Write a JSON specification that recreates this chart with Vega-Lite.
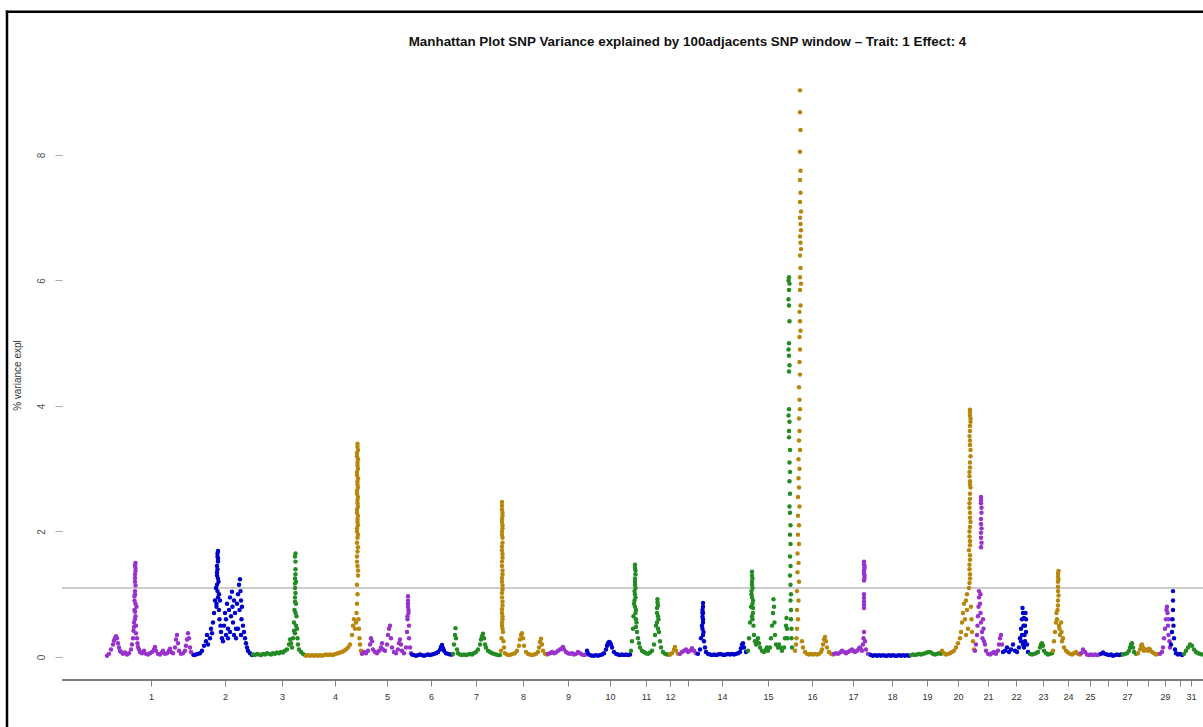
{
"$schema": "https://vega.github.io/schema/vega-lite/v6.json",
"width": 1203,
"height": 727,
"autosize": {"type": "none"},
"padding": 0,
"background": "white",
"config": {"view": {"stroke": null}, "font": "Liberation Sans"},
"title": {"text": "Manhattan Plot SNP Variance explained by 100adjacents SNP window \u2013 Trait: 1 Effect: 4", "fontSize": 13.4, "fontWeight": "bold", "font": "Liberation Sans", "color": "#111", "anchor": "middle", "frame": "group", "offset": -59, "baseline": "alphabetic", "dx": 86},
"datasets": {
"snp": [
{"c":1,"x":107,"y":0.02},{"c":1,"x":109,"y":0.05},{"c":1,"x":111,"y":0.12},{"c":1,"x":113,"y":0.2},{"c":1,"x":114,"y":0.26},{"c":1,"x":115,"y":0.3},{"c":1,"x":116,"y":0.33},{"c":1,"x":117,"y":0.3},{"c":1,"x":118,"y":0.22},{"c":1,"x":119,"y":0.15},{"c":1,"x":120,"y":0.1},{"c":1,"x":121,"y":0.08},{"c":1,"x":123,"y":0.05},{"c":1,"x":125,"y":0.07},{"c":1,"x":127,"y":0.04},{"c":1,"x":129,"y":0.06},{"c":1,"x":131,"y":0.12},{"c":1,"x":132,"y":0.2},{"c":1,"x":133,"y":0.3},{"c":1,"x":133.5,"y":0.42},{"c":1,"x":134,"y":0.55},{"c":1,"x":134.5,"y":0.75},{"c":1,"x":134.5,"y":0.9},{"c":1,"x":135,"y":1.05},{"c":1,"x":135,"y":1.2},{"c":1,"x":135,"y":1.32},{"c":1,"x":135.5,"y":1.42},{"c":1,"x":135.5,"y":1.5},{"c":1,"x":135.5,"y":0.65},{"c":1,"x":136,"y":0.5},{"c":1,"x":136,"y":0.38},{"c":1,"x":136.5,"y":0.8},{"c":1,"x":135,"y":1.46},{"c":1,"x":135.5,"y":1.37},{"c":1,"x":135,"y":1.26},{"c":1,"x":135.5,"y":1.14},{"c":1,"x":135,"y":1.0},{"c":1,"x":134.5,"y":0.97},{"c":1,"x":135.5,"y":0.85},{"c":1,"x":135,"y":0.72},{"c":1,"x":135,"y":0.6},{"c":1,"x":134,"y":0.48},{"c":1,"x":137,"y":0.3},{"c":1,"x":137.5,"y":0.22},{"c":1,"x":138,"y":0.16},{"c":1,"x":139,"y":0.12},{"c":1,"x":140,"y":0.08},{"c":1,"x":142,"y":0.06},{"c":1,"x":144,"y":0.1},{"c":1,"x":146,"y":0.05},{"c":1,"x":148,"y":0.04},{"c":1,"x":150,"y":0.06},{"c":1,"x":152,"y":0.08},{"c":1,"x":154,"y":0.12},{"c":1,"x":155,"y":0.16},{"c":1,"x":156,"y":0.1},{"c":1,"x":158,"y":0.05},{"c":1,"x":160,"y":0.04},{"c":1,"x":162,"y":0.07},{"c":1,"x":163,"y":0.1},{"c":1,"x":165,"y":0.05},{"c":1,"x":167,"y":0.06},{"c":1,"x":169,"y":0.1},{"c":1,"x":170,"y":0.13},{"c":1,"x":171,"y":0.08},{"c":1,"x":173,"y":0.06},{"c":1,"x":175,"y":0.15},{"c":1,"x":176,"y":0.28},{"c":1,"x":177,"y":0.35},{"c":1,"x":178,"y":0.22},{"c":1,"x":179,"y":0.1},{"c":1,"x":181,"y":0.05},{"c":1,"x":183,"y":0.06},{"c":1,"x":185,"y":0.1},{"c":1,"x":186,"y":0.18},{"c":1,"x":187,"y":0.28},{"c":1,"x":188,"y":0.38},{"c":1,"x":189,"y":0.3},{"c":1,"x":190,"y":0.15},{"c":1,"x":191,"y":0.08},{"c":1,"x":193,"y":0.04},
{"c":2,"x":194,"y":0.03},{"c":2,"x":196,"y":0.04},{"c":2,"x":198,"y":0.05},{"c":2,"x":200,"y":0.06},{"c":2,"x":202,"y":0.1},{"c":2,"x":204,"y":0.18},{"c":2,"x":206,"y":0.25},{"c":2,"x":207,"y":0.35},{"c":2,"x":208,"y":0.2},{"c":2,"x":210,"y":0.3},{"c":2,"x":211,"y":0.45},{"c":2,"x":212,"y":0.38},{"c":2,"x":213,"y":0.55},{"c":2,"x":214,"y":0.7},{"c":2,"x":215,"y":0.9},{"c":2,"x":216,"y":1.1},{"c":2,"x":216.5,"y":0.8},{"c":2,"x":217,"y":1.3},{"c":2,"x":217,"y":1.45},{"c":2,"x":217.5,"y":1.6},{"c":2,"x":218,"y":1.69},{"c":2,"x":218,"y":1.52},{"c":2,"x":218.5,"y":1.2},{"c":2,"x":219,"y":1.0},{"c":2,"x":219,"y":0.75},{"c":2,"x":219.5,"y":0.6},{"c":2,"x":217.5,"y":1.65},{"c":2,"x":218,"y":1.57},{"c":2,"x":217.5,"y":1.4},{"c":2,"x":217,"y":1.35},{"c":2,"x":218,"y":1.25},{"c":2,"x":217,"y":1.15},{"c":2,"x":217.5,"y":1.05},{"c":2,"x":218,"y":0.95},{"c":2,"x":216.5,"y":0.85},{"c":2,"x":220,"y":0.9},{"c":2,"x":220.5,"y":0.5},{"c":2,"x":221,"y":0.4},{"c":2,"x":222,"y":0.3},{"c":2,"x":223,"y":0.25},{"c":2,"x":224,"y":0.5},{"c":2,"x":225,"y":0.7},{"c":2,"x":226,"y":0.6},{"c":2,"x":226,"y":0.35},{"c":2,"x":227,"y":0.85},{"c":2,"x":228,"y":0.45},{"c":2,"x":228,"y":0.3},{"c":2,"x":229,"y":0.75},{"c":2,"x":230,"y":0.95},{"c":2,"x":230,"y":0.4},{"c":2,"x":231,"y":0.65},{"c":2,"x":232,"y":1.04},{"c":2,"x":232.5,"y":0.8},{"c":2,"x":233,"y":0.55},{"c":2,"x":234,"y":0.9},{"c":2,"x":234,"y":0.35},{"c":2,"x":235,"y":0.7},{"c":2,"x":236,"y":0.45},{"c":2,"x":236,"y":0.3},{"c":2,"x":237,"y":0.85},{"c":2,"x":238,"y":1.0},{"c":2,"x":238,"y":0.45},{"c":2,"x":239,"y":1.15},{"c":2,"x":239.5,"y":0.75},{"c":2,"x":240,"y":1.24},{"c":2,"x":240.5,"y":1.05},{"c":2,"x":241,"y":0.9},{"c":2,"x":241,"y":0.35},{"c":2,"x":241.5,"y":0.6},{"c":2,"x":242,"y":0.8},{"c":2,"x":243,"y":0.5},{"c":2,"x":244,"y":0.4},{"c":2,"x":245,"y":0.3},{"c":2,"x":246,"y":0.22},{"c":2,"x":247,"y":0.15},{"c":2,"x":248,"y":0.1},{"c":2,"x":250,"y":0.06},{"c":2,"x":252,"y":0.03},
{"c":3,"x":253,"y":0.04},{"c":3,"x":255,"y":0.03},{"c":3,"x":257,"y":0.05},{"c":3,"x":259,"y":0.04},{"c":3,"x":261,"y":0.03},{"c":3,"x":263,"y":0.05},{"c":3,"x":265,"y":0.04},{"c":3,"x":267,"y":0.06},{"c":3,"x":269,"y":0.05},{"c":3,"x":271,"y":0.04},{"c":3,"x":273,"y":0.06},{"c":3,"x":275,"y":0.05},{"c":3,"x":277,"y":0.07},{"c":3,"x":279,"y":0.06},{"c":3,"x":281,"y":0.08},{"c":3,"x":283,"y":0.07},{"c":3,"x":285,"y":0.1},{"c":3,"x":287,"y":0.12},{"c":3,"x":289,"y":0.2},{"c":3,"x":290,"y":0.28},{"c":3,"x":291,"y":0.22},{"c":3,"x":292,"y":0.15},{"c":3,"x":293,"y":0.3},{"c":3,"x":294,"y":0.42},{"c":3,"x":294,"y":0.55},{"c":3,"x":294.5,"y":0.75},{"c":3,"x":295,"y":0.95},{"c":3,"x":295,"y":1.1},{"c":3,"x":295,"y":1.25},{"c":3,"x":295.5,"y":1.4},{"c":3,"x":295.5,"y":1.52},{"c":3,"x":295.5,"y":1.65},{"c":3,"x":296,"y":1.2},{"c":3,"x":296,"y":0.85},{"c":3,"x":295,"y":1.6},{"c":3,"x":295.5,"y":1.32},{"c":3,"x":295,"y":1.17},{"c":3,"x":295.5,"y":1.02},{"c":3,"x":295,"y":0.88},{"c":3,"x":295.5,"y":0.7},{"c":3,"x":296,"y":0.5},{"c":3,"x":295,"y":0.38},{"c":3,"x":296.5,"y":0.65},{"c":3,"x":297,"y":0.45},{"c":3,"x":297.5,"y":0.3},{"c":3,"x":298,"y":0.2},{"c":3,"x":299,"y":0.12},{"c":3,"x":301,"y":0.08},{"c":3,"x":303,"y":0.05},{"c":3,"x":305,"y":0.03},
{"c":4,"x":306,"y":0.02},{"c":4,"x":308,"y":0.03},{"c":4,"x":310,"y":0.02},{"c":4,"x":312,"y":0.03},{"c":4,"x":314,"y":0.02},{"c":4,"x":316,"y":0.03},{"c":4,"x":318,"y":0.02},{"c":4,"x":320,"y":0.03},{"c":4,"x":322,"y":0.02},{"c":4,"x":324,"y":0.03},{"c":4,"x":326,"y":0.04},{"c":4,"x":328,"y":0.03},{"c":4,"x":330,"y":0.04},{"c":4,"x":332,"y":0.03},{"c":4,"x":334,"y":0.04},{"c":4,"x":336,"y":0.05},{"c":4,"x":338,"y":0.06},{"c":4,"x":340,"y":0.07},{"c":4,"x":342,"y":0.08},{"c":4,"x":344,"y":0.1},{"c":4,"x":346,"y":0.12},{"c":4,"x":348,"y":0.15},{"c":4,"x":350,"y":0.2},{"c":4,"x":352,"y":0.35},{"c":4,"x":353,"y":0.5},{"c":4,"x":354,"y":0.6},{"c":4,"x":355,"y":0.45},{"c":4,"x":356,"y":0.55},{"c":4,"x":356.5,"y":0.7},{"c":4,"x":357,"y":0.85},{"c":4,"x":357.5,"y":1.0},{"c":4,"x":357,"y":1.15},{"c":4,"x":358,"y":1.3},{"c":4,"x":357.5,"y":1.45},{"c":4,"x":357,"y":1.6},{"c":4,"x":358,"y":1.75},{"c":4,"x":357.5,"y":1.9},{"c":4,"x":357,"y":2.0},{"c":4,"x":358,"y":2.1},{"c":4,"x":357.5,"y":2.2},{"c":4,"x":357,"y":2.3},{"c":4,"x":358,"y":2.4},{"c":4,"x":357.5,"y":2.5},{"c":4,"x":357,"y":2.6},{"c":4,"x":358,"y":2.7},{"c":4,"x":357.5,"y":2.8},{"c":4,"x":357,"y":2.9},{"c":4,"x":358,"y":3.0},{"c":4,"x":357.5,"y":3.1},{"c":4,"x":357,"y":3.2},{"c":4,"x":358,"y":3.3},{"c":4,"x":357.5,"y":3.4},{"c":4,"x":357.5,"y":3.35},{"c":4,"x":357,"y":3.25},{"c":4,"x":358,"y":3.15},{"c":4,"x":357.5,"y":3.05},{"c":4,"x":357,"y":2.95},{"c":4,"x":358,"y":2.85},{"c":4,"x":357.5,"y":2.75},{"c":4,"x":357,"y":2.65},{"c":4,"x":358,"y":2.55},{"c":4,"x":357.5,"y":2.45},{"c":4,"x":357,"y":2.35},{"c":4,"x":358,"y":2.25},{"c":4,"x":357.5,"y":2.15},{"c":4,"x":357,"y":2.05},{"c":4,"x":358,"y":1.95},{"c":4,"x":357,"y":1.82},{"c":4,"x":357.5,"y":1.68},{"c":4,"x":357,"y":1.52},{"c":4,"x":358,"y":1.38},{"c":4,"x":358.5,"y":0.6},{"c":4,"x":359,"y":0.45},{"c":4,"x":359.5,"y":0.3},{"c":4,"x":360,"y":0.2},{"c":4,"x":361,"y":0.1},
{"c":5,"x":362,"y":0.05},{"c":5,"x":364,"y":0.08},{"c":5,"x":366,"y":0.06},{"c":5,"x":368,"y":0.1},{"c":5,"x":370,"y":0.2},{"c":5,"x":371,"y":0.3},{"c":5,"x":372,"y":0.25},{"c":5,"x":373,"y":0.12},{"c":5,"x":375,"y":0.08},{"c":5,"x":377,"y":0.06},{"c":5,"x":379,"y":0.1},{"c":5,"x":381,"y":0.15},{"c":5,"x":382,"y":0.22},{"c":5,"x":383,"y":0.12},{"c":5,"x":385,"y":0.1},{"c":5,"x":387,"y":0.2},{"c":5,"x":388,"y":0.35},{"c":5,"x":389,"y":0.45},{"c":5,"x":390,"y":0.5},{"c":5,"x":391,"y":0.3},{"c":5,"x":392,"y":0.15},{"c":5,"x":394,"y":0.08},{"c":5,"x":396,"y":0.06},{"c":5,"x":398,"y":0.12},{"c":5,"x":399,"y":0.22},{"c":5,"x":400,"y":0.28},{"c":5,"x":401,"y":0.2},{"c":5,"x":402,"y":0.1},{"c":5,"x":404,"y":0.06},{"c":5,"x":406,"y":0.15},{"c":5,"x":407,"y":0.4},{"c":5,"x":407.5,"y":0.6},{"c":5,"x":408,"y":0.8},{"c":5,"x":408,"y":0.97},{"c":5,"x":408,"y":0.9},{"c":5,"x":408,"y":0.85},{"c":5,"x":408.5,"y":0.75},{"c":5,"x":407.5,"y":0.65},{"c":5,"x":408.5,"y":0.7},{"c":5,"x":409,"y":0.5},{"c":5,"x":409,"y":0.3},{"c":5,"x":410,"y":0.15},{"c":5,"x":411,"y":0.06},
{"c":6,"x":412,"y":0.04},{"c":6,"x":414,"y":0.03},{"c":6,"x":416,"y":0.02},{"c":6,"x":418,"y":0.03},{"c":6,"x":420,"y":0.04},{"c":6,"x":422,"y":0.03},{"c":6,"x":424,"y":0.02},{"c":6,"x":426,"y":0.03},{"c":6,"x":428,"y":0.04},{"c":6,"x":430,"y":0.03},{"c":6,"x":432,"y":0.04},{"c":6,"x":434,"y":0.05},{"c":6,"x":436,"y":0.06},{"c":6,"x":438,"y":0.08},{"c":6,"x":440,"y":0.12},{"c":6,"x":441,"y":0.16},{"c":6,"x":442,"y":0.19},{"c":6,"x":443,"y":0.14},{"c":6,"x":444,"y":0.1},{"c":6,"x":446,"y":0.06},{"c":6,"x":448,"y":0.05},{"c":6,"x":450,"y":0.04},{"c":6,"x":452,"y":0.04},
{"c":7,"x":453,"y":0.05},{"c":7,"x":454,"y":0.2},{"c":7,"x":455,"y":0.35},{"c":7,"x":455.5,"y":0.46},{"c":7,"x":456,"y":0.3},{"c":7,"x":457,"y":0.12},{"c":7,"x":458,"y":0.06},{"c":7,"x":460,"y":0.04},{"c":7,"x":462,"y":0.03},{"c":7,"x":464,"y":0.04},{"c":7,"x":466,"y":0.03},{"c":7,"x":468,"y":0.04},{"c":7,"x":470,"y":0.05},{"c":7,"x":472,"y":0.04},{"c":7,"x":474,"y":0.06},{"c":7,"x":476,"y":0.08},{"c":7,"x":478,"y":0.12},{"c":7,"x":480,"y":0.2},{"c":7,"x":481,"y":0.28},{"c":7,"x":482,"y":0.33},{"c":7,"x":483,"y":0.37},{"c":7,"x":484,"y":0.3},{"c":7,"x":485,"y":0.2},{"c":7,"x":486,"y":0.15},{"c":7,"x":488,"y":0.1},{"c":7,"x":490,"y":0.08},{"c":7,"x":492,"y":0.06},{"c":7,"x":494,"y":0.05},{"c":7,"x":496,"y":0.04},{"c":7,"x":498,"y":0.03},{"c":7,"x":500,"y":0.03},
{"c":8,"x":501,"y":0.1},{"c":8,"x":501.5,"y":0.3},{"c":8,"x":502,"y":0.5},{"c":8,"x":502.5,"y":0.6},{"c":8,"x":502,"y":0.7},{"c":8,"x":502.5,"y":0.82},{"c":8,"x":502,"y":0.95},{"c":8,"x":502.5,"y":1.08},{"c":8,"x":502,"y":1.2},{"c":8,"x":502.5,"y":1.32},{"c":8,"x":502,"y":1.45},{"c":8,"x":502.5,"y":1.58},{"c":8,"x":502,"y":1.7},{"c":8,"x":502.5,"y":1.82},{"c":8,"x":502,"y":1.95},{"c":8,"x":502.5,"y":2.05},{"c":8,"x":502,"y":2.15},{"c":8,"x":502.5,"y":2.25},{"c":8,"x":502,"y":2.35},{"c":8,"x":502,"y":2.47},{"c":8,"x":502,"y":2.41},{"c":8,"x":502.5,"y":2.3},{"c":8,"x":502,"y":2.2},{"c":8,"x":502.5,"y":2.1},{"c":8,"x":502,"y":2.0},{"c":8,"x":502.5,"y":1.9},{"c":8,"x":502,"y":1.76},{"c":8,"x":502.5,"y":1.64},{"c":8,"x":502,"y":1.52},{"c":8,"x":502.5,"y":1.38},{"c":8,"x":502,"y":1.26},{"c":8,"x":502.5,"y":1.14},{"c":8,"x":502,"y":1.02},{"c":8,"x":502.5,"y":0.88},{"c":8,"x":502,"y":0.76},{"c":8,"x":502.5,"y":0.65},{"c":8,"x":502,"y":0.55},{"c":8,"x":502.5,"y":0.45},{"c":8,"x":503,"y":0.4},{"c":8,"x":503.5,"y":0.25},{"c":8,"x":504,"y":0.15},{"c":8,"x":505,"y":0.06},{"c":8,"x":507,"y":0.04},{"c":8,"x":509,"y":0.03},{"c":8,"x":511,"y":0.04},{"c":8,"x":513,"y":0.05},{"c":8,"x":515,"y":0.06},{"c":8,"x":517,"y":0.1},{"c":8,"x":519,"y":0.18},{"c":8,"x":520,"y":0.28},{"c":8,"x":521,"y":0.35},{"c":8,"x":522,"y":0.38},{"c":8,"x":523,"y":0.3},{"c":8,"x":524,"y":0.18},{"c":8,"x":526,"y":0.08},{"c":8,"x":528,"y":0.05},{"c":8,"x":530,"y":0.04},{"c":8,"x":532,"y":0.03},{"c":8,"x":534,"y":0.04},{"c":8,"x":536,"y":0.05},{"c":8,"x":538,"y":0.08},{"c":8,"x":539,"y":0.15},{"c":8,"x":540,"y":0.24},{"c":8,"x":541,"y":0.29},{"c":8,"x":542,"y":0.2},{"c":8,"x":543,"y":0.1},{"c":8,"x":545,"y":0.05},{"c":8,"x":547,"y":0.04},
{"c":9,"x":548,"y":0.05},{"c":9,"x":550,"y":0.06},{"c":9,"x":552,"y":0.08},{"c":9,"x":554,"y":0.06},{"c":9,"x":556,"y":0.07},{"c":9,"x":558,"y":0.1},{"c":9,"x":560,"y":0.12},{"c":9,"x":562,"y":0.14},{"c":9,"x":563,"y":0.16},{"c":9,"x":564,"y":0.12},{"c":9,"x":566,"y":0.08},{"c":9,"x":568,"y":0.06},{"c":9,"x":570,"y":0.05},{"c":9,"x":572,"y":0.06},{"c":9,"x":574,"y":0.04},{"c":9,"x":576,"y":0.05},{"c":9,"x":578,"y":0.08},{"c":9,"x":580,"y":0.06},{"c":9,"x":582,"y":0.04},{"c":9,"x":584,"y":0.03},{"c":9,"x":586,"y":0.04},
{"c":10,"x":587,"y":0.1},{"c":10,"x":588,"y":0.06},{"c":10,"x":590,"y":0.03},{"c":10,"x":592,"y":0.02},{"c":10,"x":594,"y":0.02},{"c":10,"x":596,"y":0.03},{"c":10,"x":598,"y":0.02},{"c":10,"x":600,"y":0.03},{"c":10,"x":602,"y":0.04},{"c":10,"x":604,"y":0.06},{"c":10,"x":606,"y":0.12},{"c":10,"x":607,"y":0.18},{"c":10,"x":608,"y":0.22},{"c":10,"x":609,"y":0.24},{"c":10,"x":610,"y":0.23},{"c":10,"x":611,"y":0.2},{"c":10,"x":612,"y":0.15},{"c":10,"x":614,"y":0.08},{"c":10,"x":616,"y":0.05},{"c":10,"x":618,"y":0.04},{"c":10,"x":620,"y":0.03},{"c":10,"x":622,"y":0.04},{"c":10,"x":624,"y":0.03},{"c":10,"x":626,"y":0.04},{"c":10,"x":628,"y":0.03},{"c":10,"x":630,"y":0.04},
{"c":11,"x":631,"y":0.1},{"c":11,"x":632,"y":0.25},{"c":11,"x":633,"y":0.45},{"c":11,"x":633.5,"y":0.65},{"c":11,"x":634,"y":0.85},{"c":11,"x":634.5,"y":1.05},{"c":11,"x":635,"y":1.25},{"c":11,"x":635,"y":1.47},{"c":11,"x":635.5,"y":1.38},{"c":11,"x":635,"y":1.15},{"c":11,"x":635.5,"y":0.95},{"c":11,"x":636,"y":0.75},{"c":11,"x":636.5,"y":0.55},{"c":11,"x":635,"y":1.42},{"c":11,"x":635.5,"y":1.32},{"c":11,"x":635,"y":1.2},{"c":11,"x":635.5,"y":1.1},{"c":11,"x":635,"y":1.0},{"c":11,"x":634.5,"y":0.9},{"c":11,"x":635,"y":0.8},{"c":11,"x":635.5,"y":0.7},{"c":11,"x":636,"y":0.6},{"c":11,"x":636,"y":0.48},{"c":11,"x":637,"y":0.4},{"c":11,"x":638,"y":0.3},{"c":11,"x":639,"y":0.22},{"c":11,"x":640,"y":0.15},{"c":11,"x":642,"y":0.1},{"c":11,"x":644,"y":0.08},{"c":11,"x":646,"y":0.06},{"c":11,"x":648,"y":0.05},{"c":11,"x":650,"y":0.07},{"c":11,"x":652,"y":0.1},{"c":11,"x":654,"y":0.2},{"c":11,"x":655,"y":0.35},{"c":11,"x":656,"y":0.5},{"c":11,"x":657,"y":0.7},{"c":11,"x":657.5,"y":0.92},{"c":11,"x":658,"y":0.82},{"c":11,"x":657.5,"y":0.87},{"c":11,"x":657,"y":0.78},{"c":11,"x":658,"y":0.65},{"c":11,"x":657,"y":0.55},{"c":11,"x":658,"y":0.45},{"c":11,"x":658.5,"y":0.6},{"c":11,"x":659,"y":0.4},{"c":11,"x":660,"y":0.25},{"c":11,"x":661,"y":0.15},{"c":11,"x":663,"y":0.08},{"c":11,"x":665,"y":0.05},{"c":11,"x":667,"y":0.04},{"c":11,"x":669,"y":0.04},
{"c":12,"x":670,"y":0.04},{"c":12,"x":672,"y":0.06},{"c":12,"x":674,"y":0.12},{"c":12,"x":675,"y":0.16},{"c":12,"x":676,"y":0.1},{"c":12,"x":678,"y":0.05},
{"c":13,"x":680,"y":0.05},{"c":13,"x":682,"y":0.08},{"c":13,"x":684,"y":0.1},{"c":13,"x":686,"y":0.12},{"c":13,"x":688,"y":0.08},{"c":13,"x":690,"y":0.1},{"c":13,"x":692,"y":0.14},{"c":13,"x":694,"y":0.1},{"c":13,"x":696,"y":0.06},
{"c":14,"x":698,"y":0.05},{"c":14,"x":700,"y":0.12},{"c":14,"x":701,"y":0.3},{"c":14,"x":702,"y":0.5},{"c":14,"x":702.5,"y":0.7},{"c":14,"x":703,"y":0.86},{"c":14,"x":703,"y":0.6},{"c":14,"x":703.5,"y":0.4},{"c":14,"x":703,"y":0.8},{"c":14,"x":702.5,"y":0.75},{"c":14,"x":703,"y":0.7},{"c":14,"x":702.5,"y":0.64},{"c":14,"x":703,"y":0.55},{"c":14,"x":702.5,"y":0.45},{"c":14,"x":703,"y":0.35},{"c":14,"x":704,"y":0.25},{"c":14,"x":705,"y":0.15},{"c":14,"x":706,"y":0.08},{"c":14,"x":708,"y":0.05},{"c":14,"x":710,"y":0.04},{"c":14,"x":712,"y":0.03},{"c":14,"x":714,"y":0.04},{"c":14,"x":716,"y":0.03},{"c":14,"x":718,"y":0.04},{"c":14,"x":720,"y":0.05},{"c":14,"x":722,"y":0.04},{"c":14,"x":724,"y":0.03},{"c":14,"x":726,"y":0.04},{"c":14,"x":728,"y":0.05},{"c":14,"x":730,"y":0.04},{"c":14,"x":732,"y":0.05},{"c":14,"x":734,"y":0.04},{"c":14,"x":736,"y":0.05},{"c":14,"x":738,"y":0.06},{"c":14,"x":740,"y":0.08},{"c":14,"x":741,"y":0.14},{"c":14,"x":742,"y":0.2},{"c":14,"x":743,"y":0.22},{"c":14,"x":744,"y":0.15},{"c":14,"x":746,"y":0.08},
{"c":15,"x":748,"y":0.1},{"c":15,"x":749,"y":0.3},{"c":15,"x":750,"y":0.55},{"c":15,"x":751,"y":0.8},{"c":15,"x":751.5,"y":1.0},{"c":15,"x":752,"y":1.2},{"c":15,"x":752,"y":1.36},{"c":15,"x":752.5,"y":1.1},{"c":15,"x":753,"y":0.9},{"c":15,"x":753,"y":0.7},{"c":15,"x":753.5,"y":0.5},{"c":15,"x":752,"y":1.3},{"c":15,"x":752.5,"y":1.25},{"c":15,"x":752,"y":1.15},{"c":15,"x":751.5,"y":1.05},{"c":15,"x":752,"y":0.95},{"c":15,"x":752.5,"y":0.85},{"c":15,"x":753,"y":0.78},{"c":15,"x":752,"y":0.65},{"c":15,"x":752.5,"y":0.6},{"c":15,"x":754,"y":0.35},{"c":15,"x":755,"y":0.25},{"c":15,"x":756,"y":0.2},{"c":15,"x":757,"y":0.25},{"c":15,"x":758,"y":0.3},{"c":15,"x":759,"y":0.22},{"c":15,"x":760,"y":0.15},{"c":15,"x":762,"y":0.1},{"c":15,"x":764,"y":0.08},{"c":15,"x":766,"y":0.12},{"c":15,"x":767,"y":0.15},{"c":15,"x":768,"y":0.1},{"c":15,"x":770,"y":0.15},{"c":15,"x":771,"y":0.3},{"c":15,"x":772,"y":0.5},{"c":15,"x":773,"y":0.7},{"c":15,"x":773.5,"y":0.92},{"c":15,"x":774,"y":0.8},{"c":15,"x":774.5,"y":0.55},{"c":15,"x":775,"y":0.35},{"c":15,"x":776,"y":0.2},{"c":15,"x":778,"y":0.15},{"c":15,"x":779,"y":0.2},{"c":15,"x":780,"y":0.15},{"c":15,"x":782,"y":0.1},{"c":15,"x":784,"y":0.15},{"c":15,"x":785,"y":0.3},{"c":15,"x":786,"y":0.5},{"c":15,"x":786.5,"y":0.62},{"c":15,"x":787,"y":0.45},{"c":15,"x":787.5,"y":0.3},{"c":15,"x":789,"y":6.05},{"c":15,"x":788.5,"y":6.0},{"c":15,"x":789.5,"y":5.95},{"c":15,"x":789,"y":5.85},{"c":15,"x":788.5,"y":5.7},{"c":15,"x":789,"y":5.6},{"c":15,"x":789.5,"y":5.35},{"c":15,"x":789,"y":5.0},{"c":15,"x":788.5,"y":4.9},{"c":15,"x":789,"y":4.8},{"c":15,"x":789.5,"y":4.65},{"c":15,"x":789,"y":4.55},{"c":15,"x":789,"y":3.95},{"c":15,"x":788.5,"y":3.85},{"c":15,"x":789.5,"y":3.75},{"c":15,"x":789,"y":3.6},{"c":15,"x":789,"y":3.5},{"c":15,"x":790,"y":3.3},{"c":15,"x":789.5,"y":3.1},{"c":15,"x":790,"y":2.95},{"c":15,"x":789.5,"y":2.8},{"c":15,"x":790,"y":2.6},{"c":15,"x":789.5,"y":2.4},{"c":15,"x":790,"y":2.3},{"c":15,"x":790.5,"y":2.1},{"c":15,"x":790,"y":1.95},{"c":15,"x":790.5,"y":1.8},{"c":15,"x":790,"y":1.6},{"c":15,"x":790.5,"y":1.45},{"c":15,"x":790,"y":1.3},{"c":15,"x":790.5,"y":1.15},{"c":15,"x":791,"y":1.0},{"c":15,"x":790.5,"y":0.9},{"c":15,"x":791,"y":0.75},{"c":15,"x":791,"y":0.6},{"c":15,"x":791.5,"y":0.45},{"c":15,"x":791.5,"y":0.3},{"c":15,"x":792,"y":0.15},
{"c":16,"x":800,"y":9.03},{"c":16,"x":800,"y":8.68},{"c":16,"x":800.5,"y":8.4},{"c":16,"x":800,"y":8.05},{"c":16,"x":800.5,"y":7.75},{"c":16,"x":800,"y":7.6},{"c":16,"x":800.5,"y":7.4},{"c":16,"x":800,"y":7.25},{"c":16,"x":801,"y":7.1},{"c":16,"x":800,"y":7.0},{"c":16,"x":800.5,"y":6.9},{"c":16,"x":801,"y":6.8},{"c":16,"x":800,"y":6.7},{"c":16,"x":800.5,"y":6.6},{"c":16,"x":801,"y":6.5},{"c":16,"x":800,"y":6.4},{"c":16,"x":800.5,"y":6.2},{"c":16,"x":800,"y":6.05},{"c":16,"x":801,"y":5.95},{"c":16,"x":800,"y":5.85},{"c":16,"x":800.5,"y":5.6},{"c":16,"x":799.5,"y":5.5},{"c":16,"x":800,"y":5.35},{"c":16,"x":800.5,"y":5.2},{"c":16,"x":799.5,"y":5.1},{"c":16,"x":800,"y":4.9},{"c":16,"x":799.5,"y":4.7},{"c":16,"x":800,"y":4.5},{"c":16,"x":799,"y":4.3},{"c":16,"x":799.5,"y":4.1},{"c":16,"x":800,"y":3.95},{"c":16,"x":799,"y":3.8},{"c":16,"x":799.5,"y":3.6},{"c":16,"x":799,"y":3.45},{"c":16,"x":800,"y":3.3},{"c":16,"x":798.5,"y":3.15},{"c":16,"x":799.5,"y":3.0},{"c":16,"x":798.5,"y":2.85},{"c":16,"x":799,"y":2.7},{"c":16,"x":798,"y":2.55},{"c":16,"x":799.5,"y":2.4},{"c":16,"x":798,"y":2.25},{"c":16,"x":799,"y":2.1},{"c":16,"x":798,"y":1.95},{"c":16,"x":799,"y":1.8},{"c":16,"x":797.5,"y":1.65},{"c":16,"x":798.5,"y":1.5},{"c":16,"x":797.5,"y":1.35},{"c":16,"x":799,"y":1.2},{"c":16,"x":797,"y":1.05},{"c":16,"x":798.5,"y":0.9},{"c":16,"x":797,"y":0.75},{"c":16,"x":798,"y":0.6},{"c":16,"x":797,"y":0.45},{"c":16,"x":796.5,"y":0.3},{"c":16,"x":796,"y":0.2},{"c":16,"x":795,"y":0.1},{"c":16,"x":802,"y":0.25},{"c":16,"x":803,"y":0.15},{"c":16,"x":805,"y":0.08},{"c":16,"x":807,"y":0.05},{"c":16,"x":809,"y":0.04},{"c":16,"x":811,"y":0.05},{"c":16,"x":813,"y":0.04},{"c":16,"x":815,"y":0.05},{"c":16,"x":817,"y":0.04},{"c":16,"x":819,"y":0.05},{"c":16,"x":821,"y":0.08},{"c":16,"x":822,"y":0.12},{"c":16,"x":823,"y":0.2},{"c":16,"x":824,"y":0.28},{"c":16,"x":825,"y":0.32},{"c":16,"x":826,"y":0.25},{"c":16,"x":827,"y":0.15},{"c":16,"x":829,"y":0.08},{"c":16,"x":831,"y":0.05},{"c":16,"x":833,"y":0.04},
{"c":17,"x":834,"y":0.05},{"c":17,"x":836,"y":0.06},{"c":17,"x":838,"y":0.05},{"c":17,"x":840,"y":0.07},{"c":17,"x":842,"y":0.1},{"c":17,"x":844,"y":0.08},{"c":17,"x":846,"y":0.06},{"c":17,"x":848,"y":0.08},{"c":17,"x":850,"y":0.1},{"c":17,"x":852,"y":0.12},{"c":17,"x":853,"y":0.1},{"c":17,"x":855,"y":0.08},{"c":17,"x":857,"y":0.1},{"c":17,"x":859,"y":0.14},{"c":17,"x":860,"y":0.15},{"c":17,"x":861,"y":0.12},{"c":17,"x":862,"y":0.1},{"c":17,"x":863,"y":0.2},{"c":17,"x":863.5,"y":0.3},{"c":17,"x":864,"y":0.4},{"c":17,"x":864,"y":0.78},{"c":17,"x":864,"y":0.88},{"c":17,"x":864,"y":1.0},{"c":17,"x":864,"y":1.22},{"c":17,"x":864.5,"y":1.3},{"c":17,"x":864,"y":1.38},{"c":17,"x":864.5,"y":1.45},{"c":17,"x":864,"y":1.52},{"c":17,"x":864,"y":1.48},{"c":17,"x":864.5,"y":1.42},{"c":17,"x":864,"y":1.34},{"c":17,"x":864.5,"y":1.26},{"c":17,"x":864,"y":0.94},{"c":17,"x":864,"y":0.83},{"c":17,"x":865,"y":0.25},{"c":17,"x":866,"y":0.12},{"c":17,"x":868,"y":0.05},{"c":17,"x":870,"y":0.04},
{"c":18,"x":871,"y":0.03},{"c":18,"x":873,"y":0.02},{"c":18,"x":875,"y":0.03},{"c":18,"x":877,"y":0.02},{"c":18,"x":879,"y":0.03},{"c":18,"x":881,"y":0.02},{"c":18,"x":883,"y":0.03},{"c":18,"x":885,"y":0.02},{"c":18,"x":887,"y":0.02},{"c":18,"x":889,"y":0.03},{"c":18,"x":891,"y":0.02},{"c":18,"x":893,"y":0.03},{"c":18,"x":895,"y":0.02},{"c":18,"x":897,"y":0.02},{"c":18,"x":899,"y":0.03},{"c":18,"x":901,"y":0.02},{"c":18,"x":903,"y":0.03},{"c":18,"x":905,"y":0.02},{"c":18,"x":907,"y":0.03},{"c":18,"x":909,"y":0.02},
{"c":19,"x":911,"y":0.03},{"c":19,"x":913,"y":0.04},{"c":19,"x":915,"y":0.03},{"c":19,"x":917,"y":0.04},{"c":19,"x":919,"y":0.05},{"c":19,"x":921,"y":0.04},{"c":19,"x":923,"y":0.05},{"c":19,"x":925,"y":0.06},{"c":19,"x":927,"y":0.07},{"c":19,"x":929,"y":0.08},{"c":19,"x":931,"y":0.07},{"c":19,"x":933,"y":0.05},{"c":19,"x":935,"y":0.04},{"c":19,"x":937,"y":0.05},{"c":19,"x":939,"y":0.06},{"c":19,"x":941,"y":0.05},
{"c":20,"x":942,"y":0.1},{"c":20,"x":944,"y":0.06},{"c":20,"x":946,"y":0.04},{"c":20,"x":948,"y":0.05},{"c":20,"x":950,"y":0.06},{"c":20,"x":952,"y":0.08},{"c":20,"x":954,"y":0.1},{"c":20,"x":956,"y":0.15},{"c":20,"x":958,"y":0.22},{"c":20,"x":960,"y":0.3},{"c":20,"x":961,"y":0.4},{"c":20,"x":962,"y":0.55},{"c":20,"x":963,"y":0.7},{"c":20,"x":964,"y":0.85},{"c":20,"x":965,"y":0.6},{"c":20,"x":966,"y":0.9},{"c":20,"x":967,"y":0.75},{"c":20,"x":968,"y":0.45},{"c":20,"x":966,"y":0.35},{"c":20,"x":967,"y":1.0},{"c":20,"x":969,"y":1.1},{"c":20,"x":970,"y":1.25},{"c":20,"x":969.5,"y":1.4},{"c":20,"x":970,"y":1.55},{"c":20,"x":969,"y":1.7},{"c":20,"x":970,"y":1.85},{"c":20,"x":969.5,"y":2.0},{"c":20,"x":970.5,"y":2.15},{"c":20,"x":970,"y":2.3},{"c":20,"x":969.5,"y":2.45},{"c":20,"x":970,"y":2.6},{"c":20,"x":970.5,"y":2.7},{"c":20,"x":970,"y":2.8},{"c":20,"x":969.5,"y":2.95},{"c":20,"x":970,"y":3.1},{"c":20,"x":970.5,"y":3.3},{"c":20,"x":970,"y":3.45},{"c":20,"x":970,"y":3.6},{"c":20,"x":970.5,"y":3.75},{"c":20,"x":970,"y":3.85},{"c":20,"x":970,"y":3.94},{"c":20,"x":970,"y":3.9},{"c":20,"x":970.5,"y":3.8},{"c":20,"x":970,"y":3.68},{"c":20,"x":969.5,"y":3.52},{"c":20,"x":970,"y":3.38},{"c":20,"x":970.5,"y":3.2},{"c":20,"x":970,"y":3.02},{"c":20,"x":969.5,"y":2.88},{"c":20,"x":970,"y":2.75},{"c":20,"x":970,"y":2.52},{"c":20,"x":969.5,"y":2.38},{"c":20,"x":970,"y":2.22},{"c":20,"x":970,"y":2.07},{"c":20,"x":969.5,"y":1.92},{"c":20,"x":970,"y":1.78},{"c":20,"x":970,"y":1.62},{"c":20,"x":969.5,"y":1.47},{"c":20,"x":970,"y":1.32},{"c":20,"x":969.5,"y":1.18},{"c":20,"x":971,"y":0.8},{"c":20,"x":971.5,"y":0.6},{"c":20,"x":972,"y":0.4},{"c":20,"x":973,"y":0.25},{"c":20,"x":974,"y":0.12},
{"c":21,"x":975,"y":0.1},{"c":21,"x":976,"y":0.2},{"c":21,"x":977,"y":0.35},{"c":21,"x":977.5,"y":0.5},{"c":21,"x":978,"y":0.65},{"c":21,"x":978.5,"y":0.8},{"c":21,"x":979,"y":0.95},{"c":21,"x":979,"y":1.05},{"c":21,"x":980,"y":0.85},{"c":21,"x":980.5,"y":0.7},{"c":21,"x":981,"y":0.55},{"c":21,"x":981,"y":1.75},{"c":21,"x":981,"y":1.9},{"c":21,"x":981.5,"y":2.05},{"c":21,"x":981,"y":2.2},{"c":21,"x":981.5,"y":2.3},{"c":21,"x":981,"y":2.45},{"c":21,"x":981,"y":2.55},{"c":21,"x":981,"y":2.5},{"c":21,"x":981.5,"y":2.38},{"c":21,"x":981,"y":2.12},{"c":21,"x":981,"y":1.98},{"c":21,"x":981.5,"y":1.82},{"c":21,"x":980.5,"y":1.0},{"c":21,"x":982,"y":0.4},{"c":21,"x":982.5,"y":0.3},{"c":21,"x":983,"y":0.6},{"c":21,"x":983.5,"y":0.45},{"c":21,"x":984,"y":0.25},{"c":21,"x":985,"y":0.2},{"c":21,"x":986,"y":0.1},{"c":21,"x":988,"y":0.05},{"c":21,"x":990,"y":0.04},{"c":21,"x":992,"y":0.06},{"c":21,"x":994,"y":0.08},{"c":21,"x":996,"y":0.05},{"c":21,"x":998,"y":0.1},{"c":21,"x":999,"y":0.2},{"c":21,"x":1000,"y":0.3},{"c":21,"x":1001,"y":0.35},{"c":21,"x":1002,"y":0.2},
{"c":22,"x":1003,"y":0.08},{"c":22,"x":1005,"y":0.1},{"c":22,"x":1007,"y":0.15},{"c":22,"x":1009,"y":0.08},{"c":22,"x":1011,"y":0.12},{"c":22,"x":1013,"y":0.2},{"c":22,"x":1015,"y":0.1},{"c":22,"x":1017,"y":0.08},{"c":22,"x":1019,"y":0.15},{"c":22,"x":1020,"y":0.3},{"c":22,"x":1021,"y":0.45},{"c":22,"x":1021,"y":0.25},{"c":22,"x":1022,"y":0.6},{"c":22,"x":1022,"y":0.35},{"c":22,"x":1022.5,"y":0.78},{"c":22,"x":1023,"y":0.7},{"c":22,"x":1023,"y":0.2},{"c":22,"x":1023.5,"y":0.5},{"c":22,"x":1024,"y":0.62},{"c":22,"x":1024,"y":0.15},{"c":22,"x":1024.5,"y":0.35},{"c":22,"x":1025,"y":0.25},{"c":22,"x":1025,"y":0.5},{"c":22,"x":1025.5,"y":0.7},{"c":22,"x":1026,"y":0.6},{"c":22,"x":1026,"y":0.4},{"c":22,"x":1027,"y":0.2},{"c":22,"x":1028,"y":0.08},
{"c":23,"x":1030,"y":0.05},{"c":23,"x":1032,"y":0.04},{"c":23,"x":1034,"y":0.05},{"c":23,"x":1036,"y":0.06},{"c":23,"x":1038,"y":0.08},{"c":23,"x":1040,"y":0.15},{"c":23,"x":1041,"y":0.2},{"c":23,"x":1042,"y":0.22},{"c":23,"x":1043,"y":0.18},{"c":23,"x":1044,"y":0.1},{"c":23,"x":1046,"y":0.06},{"c":23,"x":1048,"y":0.04},{"c":23,"x":1050,"y":0.05},{"c":23,"x":1052,"y":0.06},
{"c":24,"x":1053,"y":0.1},{"c":24,"x":1054,"y":0.25},{"c":24,"x":1055,"y":0.4},{"c":24,"x":1056,"y":0.55},{"c":24,"x":1056.5,"y":0.7},{"c":24,"x":1057,"y":0.6},{"c":24,"x":1057.5,"y":0.75},{"c":24,"x":1058,"y":0.9},{"c":24,"x":1058,"y":1.05},{"c":24,"x":1058,"y":1.2},{"c":24,"x":1058,"y":1.28},{"c":24,"x":1058.5,"y":1.37},{"c":24,"x":1058,"y":1.33},{"c":24,"x":1058.5,"y":1.24},{"c":24,"x":1058,"y":1.12},{"c":24,"x":1058.5,"y":0.98},{"c":24,"x":1058,"y":0.82},{"c":24,"x":1059,"y":0.5},{"c":24,"x":1059.5,"y":0.45},{"c":24,"x":1060,"y":0.35},{"c":24,"x":1061,"y":0.55},{"c":24,"x":1061.5,"y":0.4},{"c":24,"x":1062,"y":0.25},{"c":24,"x":1063,"y":0.3},{"c":24,"x":1064,"y":0.15},{"c":24,"x":1066,"y":0.1},{"c":24,"x":1068,"y":0.07},{"c":24,"x":1070,"y":0.05},{"c":24,"x":1072,"y":0.04},{"c":24,"x":1074,"y":0.06},{"c":24,"x":1076,"y":0.08},{"c":24,"x":1078,"y":0.05},{"c":24,"x":1080,"y":0.04},
{"c":25,"x":1081,"y":0.06},{"c":25,"x":1083,"y":0.12},{"c":25,"x":1085,"y":0.08},{"c":25,"x":1087,"y":0.04},{"c":25,"x":1089,"y":0.03},{"c":25,"x":1091,"y":0.04},{"c":25,"x":1093,"y":0.03},{"c":25,"x":1095,"y":0.04},{"c":25,"x":1097,"y":0.03},{"c":25,"x":1099,"y":0.04},
{"c":26,"x":1101,"y":0.05},{"c":26,"x":1103,"y":0.07},{"c":26,"x":1105,"y":0.05},{"c":26,"x":1107,"y":0.04},{"c":26,"x":1109,"y":0.03},{"c":26,"x":1111,"y":0.04},{"c":26,"x":1113,"y":0.02},{"c":26,"x":1115,"y":0.03},{"c":26,"x":1117,"y":0.04},{"c":26,"x":1119,"y":0.03},{"c":26,"x":1121,"y":0.04},
{"c":27,"x":1123,"y":0.04},{"c":27,"x":1125,"y":0.05},{"c":27,"x":1127,"y":0.06},{"c":27,"x":1129,"y":0.1},{"c":27,"x":1130,"y":0.15},{"c":27,"x":1131,"y":0.2},{"c":27,"x":1132,"y":0.22},{"c":27,"x":1133,"y":0.15},{"c":27,"x":1134,"y":0.08},{"c":27,"x":1136,"y":0.05},
{"c":28,"x":1138,"y":0.06},{"c":28,"x":1140,"y":0.12},{"c":28,"x":1141,"y":0.18},{"c":28,"x":1142,"y":0.2},{"c":28,"x":1143,"y":0.15},{"c":28,"x":1144,"y":0.1},{"c":28,"x":1146,"y":0.12},{"c":28,"x":1148,"y":0.1},{"c":28,"x":1149,"y":0.13},{"c":28,"x":1150,"y":0.12},{"c":28,"x":1152,"y":0.08},{"c":28,"x":1154,"y":0.06},{"c":28,"x":1156,"y":0.04},{"c":28,"x":1158,"y":0.05},
{"c":29,"x":1160,"y":0.05},{"c":29,"x":1162,"y":0.08},{"c":29,"x":1163,"y":0.15},{"c":29,"x":1164,"y":0.3},{"c":29,"x":1165,"y":0.45},{"c":29,"x":1166,"y":0.6},{"c":29,"x":1166.5,"y":0.75},{"c":29,"x":1167,"y":0.8},{"c":29,"x":1167.5,"y":0.7},{"c":29,"x":1168,"y":0.5},{"c":29,"x":1168.5,"y":0.35},{"c":29,"x":1169,"y":0.6},{"c":29,"x":1169.5,"y":0.25},{"c":29,"x":1170,"y":0.15},
{"c":30,"x":1171,"y":0.2},{"c":30,"x":1172,"y":0.4},{"c":30,"x":1172.5,"y":0.6},{"c":30,"x":1173,"y":0.75},{"c":30,"x":1173,"y":0.9},{"c":30,"x":1173,"y":1.05},{"c":30,"x":1173.5,"y":0.5},{"c":30,"x":1174,"y":0.3},{"c":30,"x":1175,"y":0.12},{"c":30,"x":1176,"y":0.06},{"c":30,"x":1178,"y":0.04},{"c":30,"x":1180,"y":0.05},{"c":30,"x":1182,"y":0.03},
{"c":31,"x":1184,"y":0.05},{"c":31,"x":1186,"y":0.1},{"c":31,"x":1188,"y":0.15},{"c":31,"x":1190,"y":0.2},{"c":31,"x":1192,"y":0.18},{"c":31,"x":1194,"y":0.12},{"c":31,"x":1196,"y":0.08},{"c":31,"x":1198,"y":0.06},{"c":31,"x":1200,"y":0.05},{"c":31,"x":1202,"y":0.04}
]
},
"layer": [
{
"data": {"values": [{}]},
"mark": {"type": "rule", "color": "#999999", "strokeWidth": 1},
"encoding": {"y": {"datum": 1.1, "type": "quantitative"}, "x": {"datum": 62, "type": "quantitative"}, "x2": {"datum": 1203}}
},
{
"data": {"name": "snp"},
"mark": {"type": "circle", "size": 20, "opacity": 1},
"encoding": {
"x": {"field": "x", "type": "quantitative", "scale": {"domain": [0, 1203], "nice": false, "zero": false},
"axis": {"orient": "bottom", "offset": -47, "values": [151,225,282,335,387,431,476,523,568,610,646,670,688,722,768,812,853,892,927,958,988,1016,1043,1068,1090,1108,1127,1148,1165,1180,1191],
"labelExpr": "['1','2','3','4','5','6','7','8','9','10','11','12','','14','15','16','17','18','19','20','21','22','23','24','25','','27','','29','','31'][indexof([151,225,282,335,387,431,476,523,568,610,646,670,688,722,768,812,853,892,927,958,988,1016,1043,1068,1090,1108,1127,1148,1165,1180,1191], datum.value)]",
"domain": false, "grid": false, "tickSize": 6, "tickColor": "#888888", "labelFontSize": 9, "labelColor": "#333333", "labelPadding": 6, "labelOverlap": false, "labelFlush": false, "labelBound": false, "title": null}},
"y": {"field": "y", "type": "quantitative", "scale": {"domain": [-1.1155, 10.47], "nice": false, "zero": false},
"axis": {"orient": "left", "offset": -62, "values": [0,2,4,6,8], "format": "d", "domain": false, "grid": false, "tickSize": 7, "tickColor": "#aaaaaa", "labelAngle": 270, "labelAlign": "center", "labelBaseline": "bottom", "labelFontSize": 10, "labelColor": "#555555", "labelPadding": 9,
"title": "% variance expl", "titleFontSize": 10, "titleFontWeight": "normal", "titleColor": "#333333", "titleAngle": 270, "titleX": -40, "titleY": 375, "titleBaseline": "bottom", "titleAlign": "center"}},
"color": {"field": "c", "type": "ordinal", "legend": null,
"scale": {"domain": [1,2,3,4,5,6,7,8,9,10,11,12,13,14,15,16,17,18,19,20,21,22,23,24,25,26,27,28,29,30,31],
"range": ["#9932CC","#0000CD","#228B22","#B8860B","#9932CC","#0000CD","#228B22","#B8860B","#9932CC","#0000CD","#228B22","#B8860B","#9932CC","#0000CD","#228B22","#B8860B","#9932CC","#0000CD","#228B22","#B8860B","#9932CC","#0000CD","#228B22","#B8860B","#9932CC","#0000CD","#228B22","#B8860B","#9932CC","#0000CD","#228B22"]}}
}
},
{
"data": {"values": [{}]},
"mark": {"type": "rule", "color": "#555555", "strokeWidth": 1.5},
"encoding": {"y": {"datum": -0.3665, "type": "quantitative"}, "x": {"datum": 62, "type": "quantitative"}, "x2": {"datum": 1203}}
},
{
"data": {"values": [{}]},
"mark": {"type": "rule", "color": "#000000", "strokeWidth": 2.5},
"encoding": {"y": {"datum": 10.284, "type": "quantitative"}, "x": {"datum": 5.8, "type": "quantitative"}, "x2": {"datum": 1203}}
},
{
"data": {"values": [{}]},
"mark": {"type": "rule", "color": "#000000", "strokeWidth": 2.5},
"encoding": {"x": {"datum": 7, "type": "quantitative"}, "y": {"datum": 10.304, "type": "quantitative"}, "y2": {"datum": -1.2}}
}
]
}
